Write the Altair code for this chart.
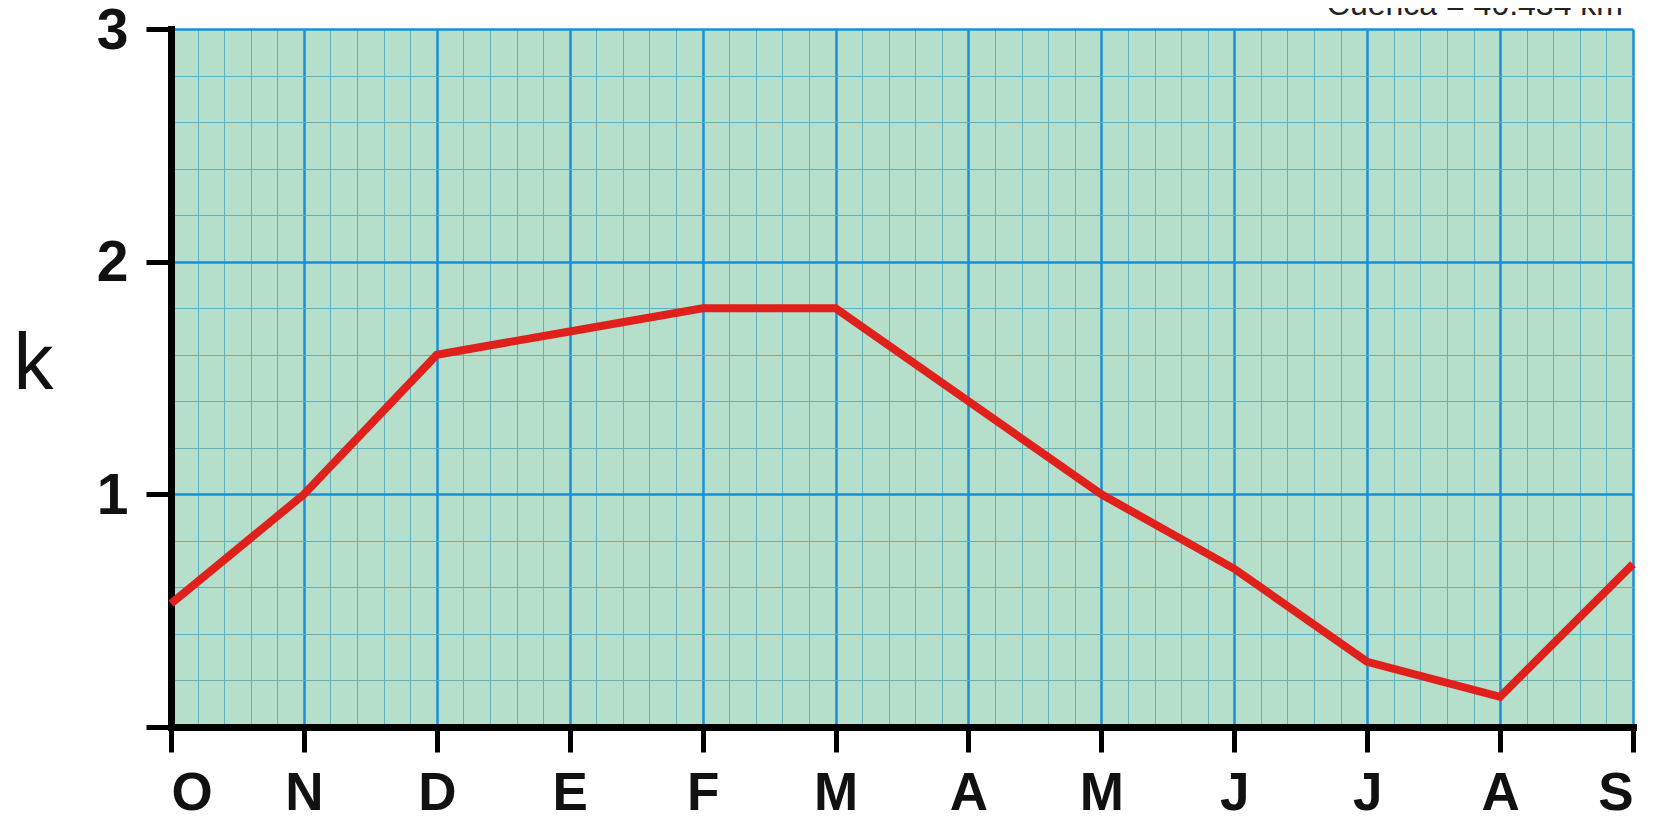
import altair as alt
import pandas as pd

months = ["O", "N", "D", "E", "F", "M", "A", "M", "J", "J", "A", "S"]
k_values = [0.53, 1.0, 1.6, 1.7, 1.8, 1.8, 1.4, 1.0, 0.68, 0.28, 0.13, 0.70]
y_ticks = [0, 1, 2, 3]
note = "Cuenca = 40.434 km"

df = pd.DataFrame({"i": list(range(len(months))), "k": k_values})

x_major = list(range(len(months)))
x_minor = [round(i + s * 0.2, 2) for i in range(len(months) - 1) for s in range(1, 5)]
y_minor = [round(i + s * 0.2, 2) for i in range(3) for s in range(1, 5)]

xscale = alt.Scale(domain=[0, 11], nice=False, zero=False)
yscale = alt.Scale(domain=[0, 3], nice=False)

label_expr = "[" + ",".join("'%s'" % m for m in months) + "][datum.value]"

FONT = "Liberation Sans"

main = alt.Chart(df).mark_line(color="#e0201b", strokeWidth=8, strokeJoin="miter").encode(
    x=alt.X("i:Q", scale=xscale, axis=alt.Axis(
        orient="bottom", values=x_major, labelExpr=label_expr, title=None,
        grid=True, gridColor="#1a8fd6", gridWidth=2.5,
        domainColor="black", domainWidth=7, domainCap="square",
        tickColor="black", tickWidth=5, tickSize=25,
        labelFont=FONT, labelFontSize=53, labelFontWeight="bold", labelColor="#111",
        labelPadding=15, labelBaseline="top")),
    y=alt.Y("k:Q", scale=yscale, axis=alt.Axis(
        orient="left", values=y_ticks,
        labelExpr="datum.value == 0 ? '' : datum.label",
        grid=True, gridColor="#1a8fd6", gridWidth=2.5,
        domainColor="black", domainWidth=7, domainCap="square",
        tickColor="black", tickWidth=5, tickSize=25,
        labelFont=FONT, labelFontSize=57, labelFontWeight="bold", labelColor="#111",
        labelPadding=18, labelBaseline="middle", labelOffset=2,
        title="k", titleAngle=0, titleFont=FONT, titleFontSize=80,
        titleFontWeight="normal", titleColor="#111",
        titleX=-138, titleY=335, titleAlign="center", titleBaseline="middle")),
)

minor = alt.Chart(df).mark_line(opacity=0).encode(
    x=alt.X("i:Q", scale=xscale, axis=alt.Axis(
        orient="top", values=x_minor, grid=True, gridColor="#5fb0b8", gridWidth=1,
        labels=False, ticks=False, domain=False, title=None)),
    y=alt.Y("k:Q", scale=yscale, axis=alt.Axis(
        orient="right", values=y_minor, grid=True, gridColor="#5fb0b8", gridWidth=1,
        labels=False, ticks=False, domain=False, title=None)),
)

text = alt.Chart(pd.DataFrame({"t": [note]})).mark_text(
    align="right", baseline="alphabetic", font=FONT, fontSize=32, color="#222"
).encode(x=alt.value(1452), y=alt.value(-14), text="t:N")

chart = alt.layer(minor, main, text).resolve_axis(x="independent", y="independent").properties(
    width=1462, height=698,
    padding={"left": 163, "top": 21, "right": 22, "bottom": 120},
    autosize=alt.AutoSizeParams(type="none"),
    background="white",
).configure_view(fill="#b5dfcb", stroke=None)

chart.save("out.html", embed_options={"renderer": "svg", "actions": False})
